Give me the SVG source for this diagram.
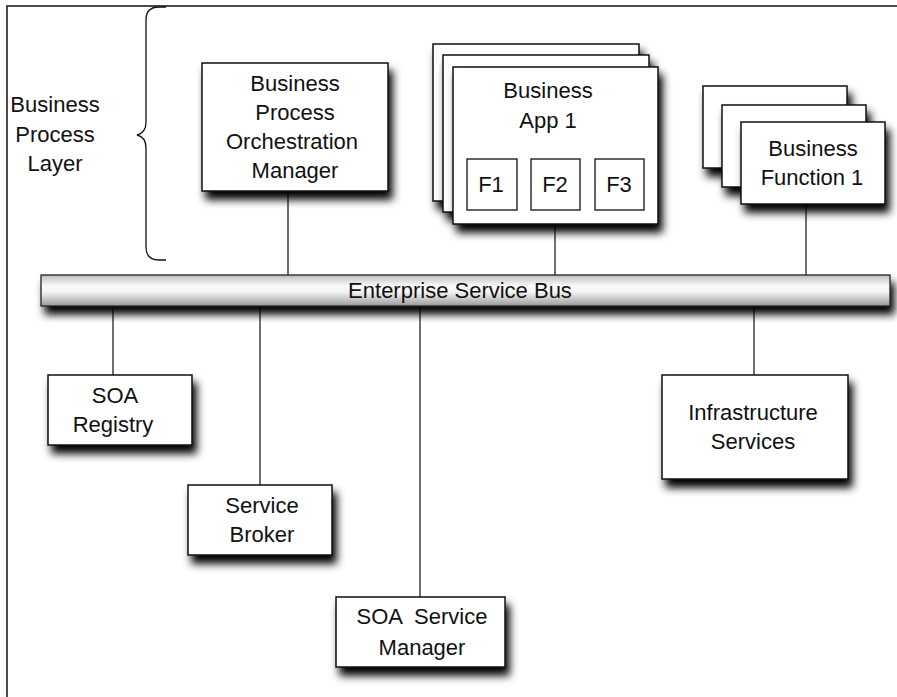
<svg xmlns="http://www.w3.org/2000/svg" width="897" height="697" viewBox="0 0 897 697">
<style>
.box{fill:#fff;stroke:#111;stroke-width:1.5;filter:url(#sh)}
.fbox{fill:#fff;stroke:#111;stroke-width:1.3}
.conn{stroke:#222;stroke-width:1.3;fill:none}
text{font-family:"Liberation Sans",Arial,sans-serif;font-size:22px;fill:#111;text-anchor:middle}
</style>
<defs>
<filter id="sh" x="-20%" y="-20%" width="150%" height="170%">
<feDropShadow dx="4" dy="8" stdDeviation="4.5" flood-color="#000" flood-opacity="1"/>
</filter>
<linearGradient id="bus" x1="0" y1="0" x2="0" y2="1">
<stop offset="0" stop-color="#bdbdbd"/>
<stop offset="0.35" stop-color="#fafafa"/>
<stop offset="0.55" stop-color="#f4f4f4"/>
<stop offset="1" stop-color="#9a9a9a"/>
</linearGradient>
</defs>
<rect width="897" height="697" fill="#fff"/>
<g id="frame">
<path d="M7,697 V6 H897" fill="none" stroke="#111" stroke-width="1.5"/>
</g>
<g id="brace">
<path d="M166,7 H159 Q146,7 146,20 V122 Q146,133 137,135 Q146,137 146,148 V247 Q146,260 159,260 H166" fill="none" stroke="#111" stroke-width="1.3"/>
<text x="55" y="112">Business</text>
<text x="55" y="142">Process</text>
<text x="55" y="171">Layer</text>
</g>
<g id="connectors">
<line class="conn" x1="288" y1="191" x2="288" y2="275"/>
<line class="conn" x1="555" y1="224" x2="555" y2="275"/>
<line class="conn" x1="806" y1="204" x2="806" y2="275"/>
<line class="conn" x1="113" y1="306" x2="113" y2="375"/>
<line class="conn" x1="260" y1="306" x2="260" y2="485"/>
<line class="conn" x1="420" y1="306" x2="420" y2="597"/>
<line class="conn" x1="754" y1="306" x2="754" y2="375"/>
</g>
<g id="bus-node">
<rect x="41" y="275" width="849" height="31" fill="url(#bus)" stroke="#222" stroke-width="1.3" filter="url(#sh)"/>
<text x="460" y="298">Enterprise Service Bus</text>
</g>
<g id="bpom">
<rect class="box" x="202" y="63" width="186" height="128"/>
<text x="295" y="91">Business</text>
<text x="295" y="120">Process</text>
<text x="292" y="149">Orchestration</text>
<text x="295" y="178">Manager</text>
</g>
<g id="business-app">
<rect class="box" x="433" y="44" width="206" height="157"/>
<rect class="box" x="443" y="55" width="206" height="157"/>
<rect class="box" x="453" y="67" width="205" height="157"/>
<text x="548" y="98">Business</text>
<text x="548" y="128">App 1</text>
<rect class="fbox" x="467" y="159" width="50" height="51"/>
<rect class="fbox" x="531" y="159" width="49" height="51"/>
<rect class="fbox" x="595" y="159" width="49" height="51"/>
<text x="491" y="192">F1</text>
<text x="555" y="192">F2</text>
<text x="619" y="192">F3</text>
</g>
<g id="business-function">
<rect class="box" x="703" y="86" width="144" height="82"/>
<rect class="box" x="722" y="105" width="144" height="82"/>
<rect class="box" x="741" y="122" width="144" height="82"/>
<text x="813" y="156">Business</text>
<text x="812" y="185">Function 1</text>
</g>
<g id="soa-registry">
<rect class="box" x="48" y="375" width="144" height="70"/>
<text x="115" y="403">SOA</text>
<text x="113" y="432">Registry</text>
</g>
<g id="service-broker">
<rect class="box" x="188" y="485" width="144" height="70"/>
<text x="262" y="513">Service</text>
<text x="262" y="542">Broker</text>
</g>
<g id="soa-service-manager">
<rect class="box" x="336" y="597" width="169" height="70"/>
<text x="422" y="624" xml:space="preserve">SOA  Service</text>
<text x="422" y="655">Manager</text>
</g>
<g id="infrastructure-services">
<rect class="box" x="662" y="375" width="186" height="104"/>
<text x="753" y="420">Infrastructure</text>
<text x="753" y="449">Services</text>
</g>
</svg>
